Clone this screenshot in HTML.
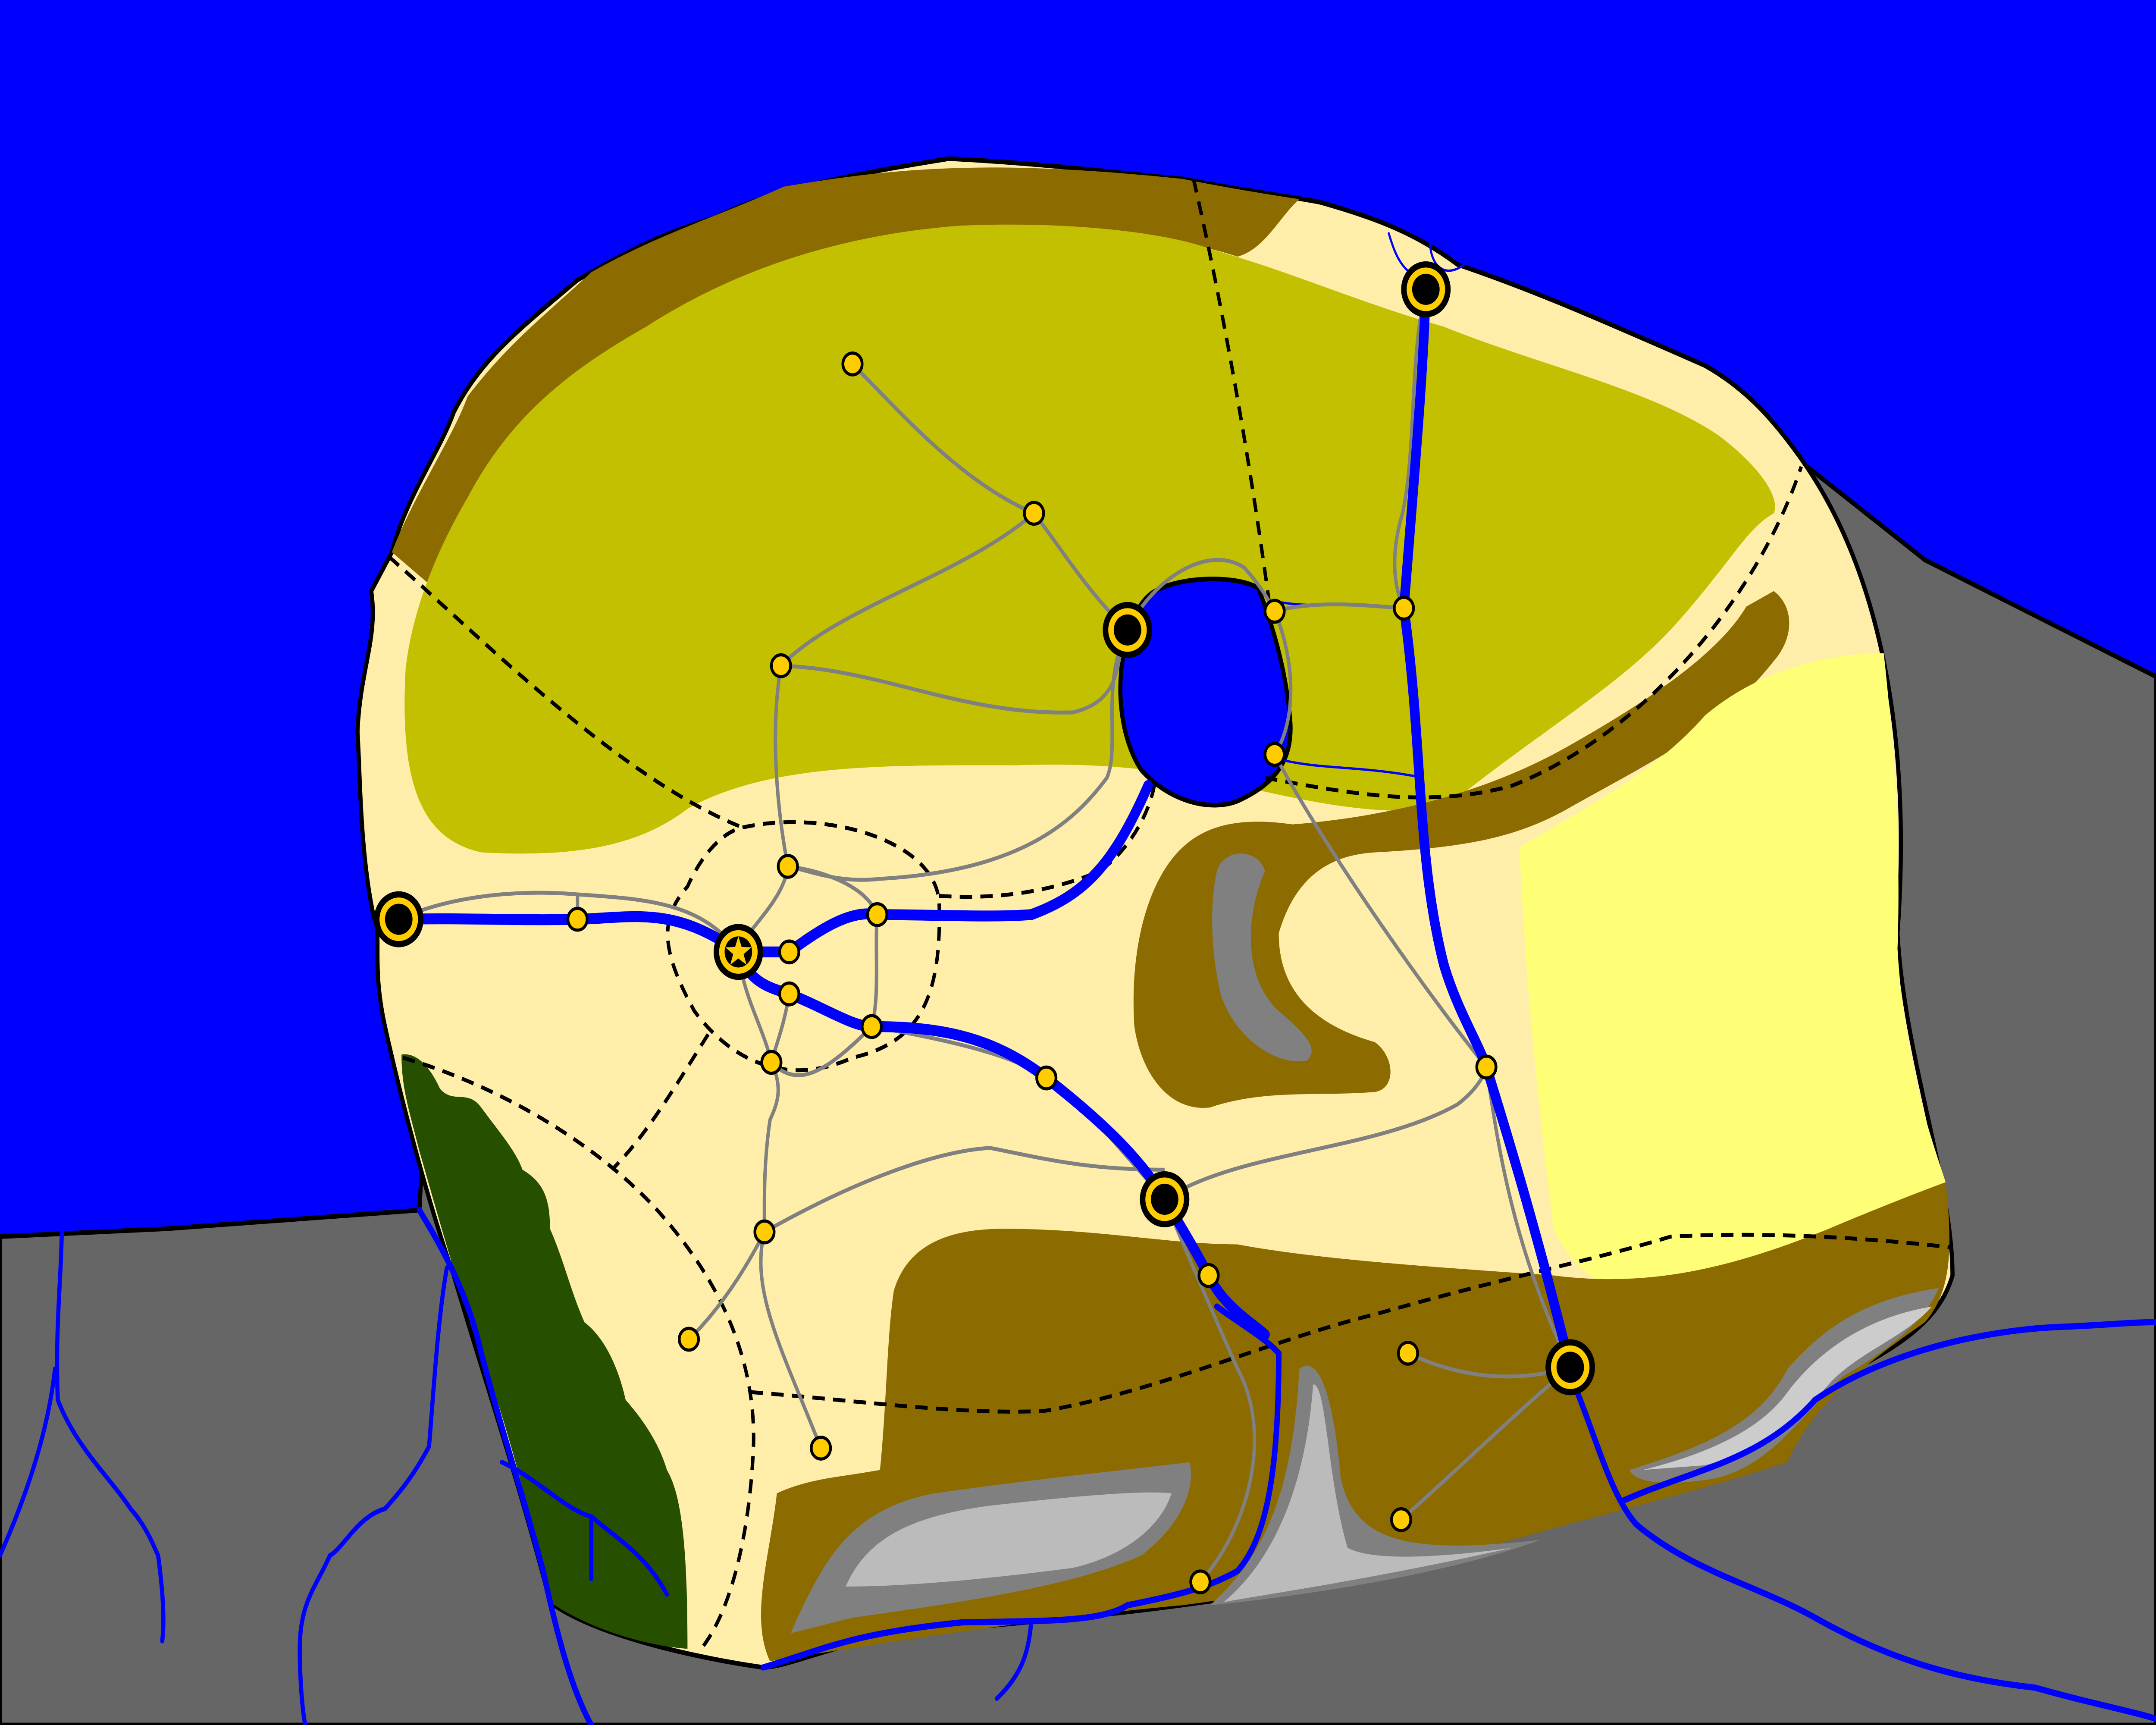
<!DOCTYPE html>
<html><head><meta charset="utf-8"><style>
html,body{margin:0;padding:0;background:#0000ff;overflow:hidden;width:100%;height:100%}
svg{display:block;position:fixed;left:0;top:0;width:100vw;height:100vh}
</style></head><body>
<svg viewBox="0 0 1568 1109" preserveAspectRatio="none" xmlns="http://www.w3.org/2000/svg">
<rect x="0" y="0" width="1568" height="1109" fill="#0000ff"/>
<path d="M0,795 L120,790 L305,778 L310,700 L1300,290 L1400,360 L1568,435 L1568,1109 L0,1109 Z" fill="#666666" stroke="#000" stroke-width="3"/>
<path d="M285,355 C295,320 320,290 330,265 C350,230 380,210 420,180 C450,165 480,150 520,140 C560,122 620,112 690,102 C760,105 820,112 860,115 C900,122 930,125 960,130 C1000,140 1030,150 1060,170 C1110,185 1150,200 1240,235 C1270,250 1290,270 1310,295 C1370,370 1390,480 1380,600 C1385,680 1420,760 1420,820 C1410,850 1380,870 1300,900 C1200,940 1150,970 1000,1010 C900,1030 800,1040 650,1050 C600,1060 570,1072 555,1072 C500,1065 430,1050 400,1030 C380,960 350,880 330,820 C310,770 290,700 280,660 C270,620 278,600 272,590 C262,550 262,500 260,470 C262,430 275,410 270,380 Z" fill="#ffeeaa" stroke="#000" stroke-width="3"/>
<path d="M285,355 C300,320 330,280 340,255 C370,220 400,200 430,175 C480,150 520,140 570,120 C650,108 720,102 860,115 C900,122 930,126 945,128 C930,140 920,160 900,165 C850,150 760,145 700,145 C620,150 560,170 500,205 C430,240 380,280 350,330 C335,355 325,370 318,380 Z" fill="#8c6b00"/>
<path d="M295,430 C300,390 320,350 340,320 C370,270 410,240 470,210 C540,170 620,150 700,145 C780,142 850,150 880,160 C940,175 990,195 1050,210 C1120,235 1200,250 1250,280 C1280,300 1295,320 1290,330 C1270,340 1260,360 1220,400 C1180,440 1120,470 1050,520 C1000,525 950,515 900,505 C850,495 800,490 740,492 C650,492 560,490 500,520 C470,540 430,552 350,548 C310,540 290,510 295,430 Z" fill="#c2c000"/>
<path d="M1290,380 C1305,390 1305,410 1290,425 C1250,470 1200,490 1140,520 C1100,540 1060,545 1000,548 C960,550 940,570 930,600 C930,640 960,660 1000,670 C1015,680 1015,700 1000,702 C960,705 920,700 880,712 C850,715 830,690 825,660 C822,620 830,580 850,555 C870,530 900,525 940,530 C1010,525 1080,510 1140,480 C1200,450 1250,420 1270,390 Z" fill="#8c6b00"/>
<path d="M885,560 C890,545 915,545 920,560 C905,590 905,630 930,650 C950,665 960,675 950,682 C930,685 900,670 888,640 C880,610 880,580 885,560 Z" fill="#808080"/>
<path d="M1105,545 C1150,520 1200,500 1240,460 C1280,430 1330,420 1370,420 C1380,500 1382,560 1380,610 C1385,680 1400,720 1415,760 C1380,790 1320,820 1250,840 C1200,845 1150,830 1130,790 C1120,720 1110,640 1105,545 Z" fill="#ffff77"/>
<path d="M650,830 C660,800 690,790 730,790 C800,790 850,800 900,800 C960,810 1050,815 1130,820 C1200,828 1260,815 1330,790 C1370,775 1400,765 1415,760 C1420,800 1420,830 1400,850 C1360,875 1320,900 1300,940 C1230,960 1180,970 1120,985 C1040,1005 960,1020 860,1032 C760,1040 650,1055 560,1068 C545,1040 560,1000 565,960 C590,950 610,950 640,945 C645,900 645,860 650,830 Z" fill="#8c6b00"/>
<path d="M575,1050 C600,1000 620,970 680,960 C760,950 820,945 865,940 C870,955 860,980 830,1000 C780,1020 700,1030 620,1040 Z" fill="#808080"/>
<path d="M615,1020 C630,990 660,975 720,968 C780,962 830,958 852,960 C845,980 820,1000 780,1008 C720,1015 660,1020 615,1020 Z" fill="#bbbbbb"/>
<path d="M945,880 C960,870 970,900 975,950 C985,990 1020,1000 1120,990 C1060,1010 960,1025 880,1032 C920,1000 940,960 945,880 Z" fill="#808080"/>
<path d="M955,890 C965,890 965,950 980,995 C1000,1005 1060,1000 1100,995 C1000,1015 920,1025 890,1030 C930,1000 950,950 955,890 Z" fill="#bbbbbb"/>
<path d="M1185,945 C1240,930 1280,915 1300,880 C1330,850 1360,835 1410,828 C1400,850 1370,870 1340,885 C1310,910 1290,940 1250,950 C1220,955 1190,955 1185,945 Z" fill="#808080"/>
<path d="M1195,945 C1240,935 1280,920 1300,895 C1330,860 1370,845 1405,840 C1385,860 1350,870 1330,890 C1300,920 1270,935 1240,942 Z" fill="#cccccc"/>
<path d="M292,678 C305,676 315,690 320,700 C330,710 340,700 350,712 C365,730 375,740 380,752 C395,760 400,770 400,790 C410,810 415,830 425,850 C440,860 450,880 455,900 C470,915 480,930 485,945 C495,960 500,990 500,1060 C470,1058 430,1048 400,1030 C385,970 370,920 350,870 C330,820 315,770 305,740 C298,715 292,700 292,678 Z" fill="#265000"/>
<path d="M840,380 C860,370 900,370 915,378 C925,400 935,430 938,460 C942,490 925,505 900,515 C880,522 850,515 830,495 C815,475 810,440 820,410 C825,395 830,385 840,380 Z" fill="#0000ff" stroke="#000" stroke-width="3"/>
<g fill="none" stroke="#000" stroke-width="2.5" stroke-dasharray="9,6">
<path d="M283,358 C350,410 450,500 540,532"/>
<path d="M868,115 C890,200 910,300 925,400"/>
<path d="M920,500 C980,510 1040,520 1100,505 C1200,470 1280,380 1310,300"/>
<path d="M540,532 C600,520 680,540 683,580 C685,640 670,670 620,680 C570,700 530,680 505,650 C480,610 480,590 500,570 C510,550 525,535 540,532 Z"/>
<path d="M683,576 C720,578 760,575 800,560 C830,540 840,510 840,500"/>
<path d="M515,665 C490,700 470,730 445,752"/>
<path d="M293,680 C370,700 440,740 480,780 C520,820 550,870 548,930 C545,990 530,1040 508,1062"/>
<path d="M546,895 C620,900 700,910 760,907 C840,895 930,860 1000,845 C1100,820 1160,810 1215,795 C1280,792 1350,795 1420,802"/>
</g>
<g fill="none" stroke="#0000ff" stroke-linecap="round">
<path stroke-width="4" d="M305,778 C320,800 340,830 350,870 C365,920 380,960 395,1010 C405,1050 415,1085 430,1109"/>
<path stroke-width="3" d="M325,815 C318,850 315,900 312,930 C300,950 290,960 280,970 C260,975 250,995 240,1000 C230,1020 218,1030 218,1060 C218,1080 220,1100 222,1109"/>
<path stroke-width="3" d="M45,785 C45,820 40,850 42,900 C55,930 80,950 95,970 C105,980 110,990 115,1000 C118,1020 120,1040 118,1055"/>
<path stroke-width="3" d="M40,880 C35,920 20,960 0,1000"/>
<path stroke-width="3" d="M365,940 C390,950 410,970 430,975 C450,990 470,1000 485,1025"/>
<path stroke-width="3" d="M430,975 L430,1015"/>
<path stroke-width="4" d="M555,1072 C600,1060 620,1050 700,1043 C760,1042 800,1043 820,1032 C860,1025 880,1020 900,1010 C920,990 930,950 930,870 C920,860 900,850 885,840"/>
<path stroke-width="3" d="M750,1043 C748,1060 745,1075 725,1092"/>
<path stroke-width="4" d="M1140,880 C1160,920 1170,960 1190,980 C1230,1010 1280,1020 1320,1040 C1380,1070 1430,1080 1480,1085 C1520,1095 1550,1100 1568,1105"/>
<path stroke-width="4" d="M1180,965 C1230,945 1280,940 1320,900 C1370,870 1440,855 1500,853 C1530,852 1550,850 1568,850"/>
<path stroke-width="1.5" d="M1010,150 C1015,165 1020,175 1035,180 M1040,155 C1040,170 1050,180 1065,170"/>
<path stroke-width="1.5" d="M930,387 C960,392 990,385 1020,392 M930,488 C960,495 990,492 1035,500"/>
</g>
<g fill="none" stroke="#808080" stroke-width="2.5">
<path d="M620,234 C660,270 700,310 752,330 C770,350 790,380 820,405"/>
<path d="M752,330 C700,370 610,390 568,428 C560,470 565,520 573,557"/>
<path d="M568,428 C640,430 700,460 780,458 C820,450 810,420 820,405"/>
<path d="M820,405 C800,440 815,480 805,500 C780,530 740,560 640,565 C610,568 590,560 573,557"/>
<path d="M820,405 C840,370 880,350 905,365 C920,380 925,390 927,393 C960,385 1000,390 1021,391"/>
<path d="M927,393 C940,420 945,460 927,485 C960,540 1030,630 1081,686"/>
<path d="M1037,186 C1025,230 1030,290 1020,330 C1010,360 1015,380 1021,391"/>
<path d="M290,591 C330,575 380,572 420,575 C470,578 510,580 537,612"/>
<path d="M420,575 L420,591"/>
<path d="M573,557 C570,580 540,600 537,612 M573,557 C600,560 630,570 638,588"/>
<path d="M638,588 C636,610 640,640 634,660 C600,690 580,700 561,683"/>
<path d="M537,612 C540,640 555,660 561,683 C570,700 565,710 560,720 C555,750 556,775 556,792"/>
<path d="M574,639 C570,660 565,670 561,683"/>
<path d="M634,660 C700,670 740,680 761,693 C790,710 810,735 847,771"/>
<path d="M556,792 C620,760 680,740 720,738 C760,745 790,752 847,752"/>
<path d="M556,792 C540,820 520,845 501,861 M556,792 C545,830 570,870 597,931"/>
<path d="M847,771 C900,740 1000,740 1060,710 C1075,700 1080,690 1081,686"/>
<path d="M1081,686 C1090,740 1100,800 1142,879"/>
<path d="M1024,870 C1060,885 1100,890 1142,879 C1100,910 1060,945 1019,977"/>
<path d="M847,771 C865,810 890,860 900,880 C925,920 910,980 873,1017"/>
</g>
<g fill="none" stroke="#0000ff" stroke-width="7" stroke-linecap="round" stroke-linejoin="round">
<path d="M290,591 C340,590 380,592 420,591 C460,590 490,582 537,612"/>
<path d="M537,612 L574,612 C600,595 620,585 638,588 C680,588 720,590 750,588 C790,575 810,555 835,505"/>
<path d="M537,612 C545,632 560,635 574,639 C600,648 620,660 634,660 C680,660 720,665 761,693 C800,720 830,745 847,771 C860,790 870,805 879,820 C890,840 910,850 920,858"/>
<path d="M1037,186 C1035,240 1030,290 1021,391 C1035,480 1030,550 1050,620 C1060,650 1075,670 1081,686 C1100,740 1120,800 1142,879"/>
</g>
<g fill="#ffcc00" stroke="#000" stroke-width="2">
<circle cx="620" cy="234" r="7"/>
<circle cx="752" cy="330" r="7"/>
<circle cx="568" cy="428" r="7"/>
<circle cx="927" cy="393" r="7"/>
<circle cx="1021" cy="391" r="7"/>
<circle cx="927" cy="485" r="7"/>
<circle cx="573" cy="557" r="7"/>
<circle cx="420" cy="591" r="7"/>
<circle cx="574" cy="612" r="7"/>
<circle cx="638" cy="588" r="7"/>
<circle cx="574" cy="639" r="7"/>
<circle cx="634" cy="660" r="7"/>
<circle cx="561" cy="683" r="7"/>
<circle cx="761" cy="693" r="7"/>
<circle cx="1081" cy="686" r="7"/>
<circle cx="556" cy="792" r="7"/>
<circle cx="879" cy="820" r="7"/>
<circle cx="501" cy="861" r="7"/>
<circle cx="1024" cy="870" r="7"/>
<circle cx="597" cy="931" r="7"/>
<circle cx="1019" cy="977" r="7"/>
<circle cx="873" cy="1017" r="7"/>
</g>
<g>
<g><circle cx="1037" cy="186" r="16" fill="#ffcc00" stroke="#000" stroke-width="4"/><circle cx="1037" cy="186" r="10" fill="#000"/></g>
<g><circle cx="820" cy="405" r="16" fill="#ffcc00" stroke="#000" stroke-width="4"/><circle cx="820" cy="405" r="10" fill="#000"/></g>
<g><circle cx="290" cy="591" r="16" fill="#ffcc00" stroke="#000" stroke-width="4"/><circle cx="290" cy="591" r="10" fill="#000"/></g>
<g><circle cx="847" cy="771" r="16" fill="#ffcc00" stroke="#000" stroke-width="4"/><circle cx="847" cy="771" r="10" fill="#000"/></g>
<g><circle cx="1142" cy="879" r="16" fill="#ffcc00" stroke="#000" stroke-width="4"/><circle cx="1142" cy="879" r="10" fill="#000"/></g>
<g><circle cx="537" cy="612" r="16" fill="#ffcc00" stroke="#000" stroke-width="4"/><circle cx="537" cy="612" r="10" fill="#000"/><polygon points="537,602 539.4,608.8 546.5,609 540.8,613.4 542.9,620.2 537,616.2 531.1,620.2 533.2,613.4 527.5,609 534.6,608.8" fill="#ffcc00"/></g>
</g>
</svg>
</body></html>
